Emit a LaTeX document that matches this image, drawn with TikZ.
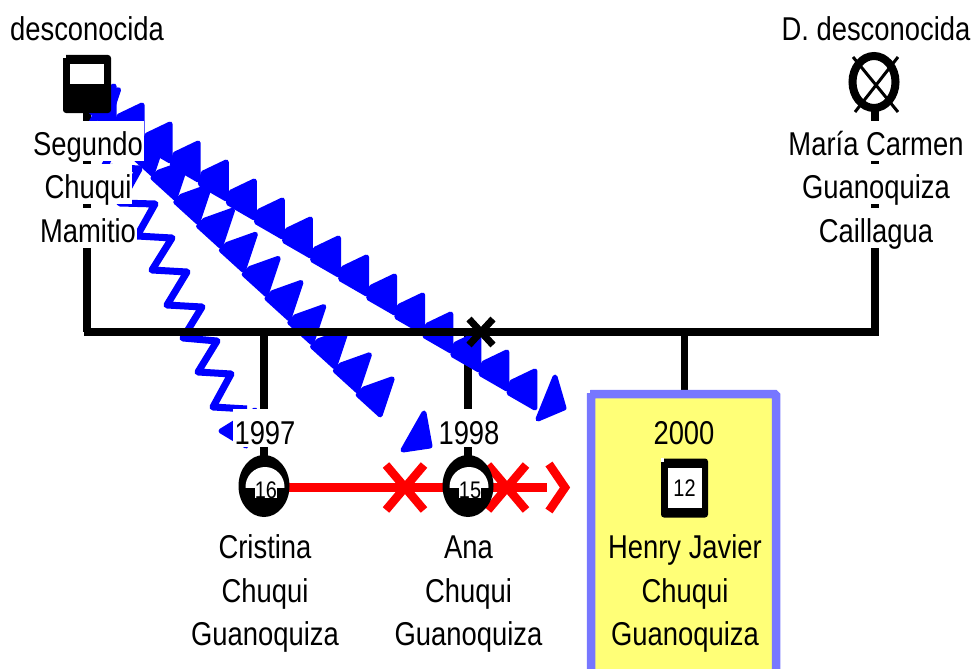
\documentclass[tikz,border=0pt]{standalone}
\usepackage{fontspec}
\setmainfont[FakeStretch=0.83]{Liberation Sans}
\usetikzlibrary{calc,shapes.geometric}
\definecolor{zblue}{RGB}{0,0,255}
\definecolor{hlborder}{RGB}{119,119,255}
\definecolor{hlfill}{RGB}{255,255,119}
\tikzset{
  kin/.style={line width=7.5pt,black},
  txt/.style={font=\fontsize{33}{33}\selectfont,anchor=base,inner sep=0pt},
  lbl/.style={txt,fill=white,inner xsep=1pt,text height=34pt,text depth=6pt},
  yearlbl/.style={txt,fill=white,inner xsep=1.5pt,text height=35pt,text depth=3pt},
  num/.style={font=\fontsize{24}{24}\selectfont,inner sep=0pt},
  tooth/.style={fill=zblue,draw=zblue,line width=5pt,line join=round},
  zig/.style={draw=zblue,line width=7pt,line join=round},
  redline/.style={draw=red,line width=8.5pt},
}
\begin{document}
\begin{tikzpicture}[x=1pt,y=-1pt]
\useasboundingbox (0,0) rectangle (975,669);
% anchor coordinates
\coordinate (fa) at (87,84);
\coordinate (mo) at (874,82);
\coordinate (barL) at (84,332);
\coordinate (barR) at (879,332);
\coordinate (c1) at (264,486);
\coordinate (c2) at (468,486);
\coordinate (c3) at (684.5,488);
\coordinate (redA) at (270,487.5);
\coordinate (redB) at (547,487.5);
\coordinate (S1) at (88,105);
\coordinate (E1) at (537,409);
\coordinate (S2) at (83.6,103.7);
\coordinate (E2) at (380,417);
% mother symbol
\draw[line width=3pt] (853,57) -- (898,112) (898,57) -- (855,112);
\node[ellipse,draw=black,line width=8pt,minimum width=43pt,minimum height=52pt,inner sep=0pt] (msym) at (mo) {};
% verticals below the blue lines
\draw[kin] (fa) -- (fa |- barL);
\draw[kin] (875,110) -- (875,332);
\draw[kin] (c1 |- barL) -- (c1);
\draw[kin] (c2 |- barL) -- (c2);
\draw[kin] (c3 |- barL) -- (684.5,395);
% red relation line
\draw[redline] (redA) -- (redB);
\draw[redline] (386,465) -- (424,510) (424,465) -- (386,510);
\draw[redline] (488,465) -- (526,510) (526,465) -- (488,510);
\draw[redline,line join=miter] (549,464) -- (565,487.5) -- (549,511);
% blue lines: thin zigzag
\draw[zig] (105,99) -- (87,132) -- (122,134) -- (104,167) -- (139,169) -- (120,203) -- (155,204)
  -- (137,236) -- (172,238) -- (152,270) -- (187,272) -- (167,305) -- (202,307) -- (183,338)
  -- (217,341) -- (198,372) -- (231,374) -- (213,407) -- (247,409);
\draw[tooth] (255,410) -- (221,431) -- (246,446) -- cycle;
% blue line 2
\foreach \n in {0,...,12}{
  \pgfmathsetmacro{\t}{\n/13}
  \draw[tooth] ($(S2)!\t!(E2)+(35,-14)$) -- ($(S2)!\t!(E2)+(7,-4)$) -- ($(S2)!\t!(E2)+(1,2)$) -- ($(S2)!\t!(E2)+(23,22)$) -- cycle;
}
\draw[tooth] (424,413) -- (403,450) -- (430,446) -- cycle;
% blue line 1
\foreach \n in {0,...,15}{
  \pgfmathsetmacro{\t}{\n/16}
  \draw[tooth] ($(S1)!\t!(E1)+(26,-19)$) -- ($(S1)!\t!(E1)+(3,-8)$) -- ($(S1)!\t!(E1)+(0,3)$) -- ($(S1)!\t!(E1)+(26,18)$) -- cycle;
}
\draw[tooth] (555,377) -- (538,419) -- (564,408) -- cycle;
% labels
\node[txt] (t1) at (87,41) {desconocida};
\node[txt] (t2) at (876,41) {D. desconocida};
\node[lbl] (f1) at (88,155) {Segundo};
\node[lbl] (f2) at (88,198) {Chuqui};
\node[lbl] (f3) at (88,242) {Mamitio};
\node[lbl] (m1) at (876,155) {María Carmen};
\node[lbl] (m2) at (876,198) {Guanoquiza};
\node[lbl] (m3) at (876,242) {Caillagua};
\node[yearlbl] (y1) at (265,444) {1997};
\node[yearlbl] (y2) at (469,444) {1998};
% bar and cross
\draw[line width=8.5pt] (barL) -- (barR);
\draw[line width=7pt] (469,319) -- (493,345) (493,319) -- (469,345);
% father
\node[fill=black,rounded corners=3pt,minimum width=48pt,minimum height=58pt,inner sep=0pt] (fsym) at (fa) {};
\fill[white] (62.5,54.5) rectangle (66,58);
\fill[white] (70,64) rectangle (104,84);
% children
\foreach \c/\v in {c1/16,c2/15}{
  \node[ellipse,fill=black,minimum width=51pt,minimum height=62pt,inner sep=0pt] (sym\v) at (\c) {};
  \begin{scope}
    \clip ($(\c)+(-21,-24)$) rectangle ($(\c)+(21,1)$);
    \fill[white] ($(\c)+(1,1)$) ellipse [x radius=19.5pt,y radius=20pt];
  \end{scope}
  \node[num,fill=white,inner sep=0pt,text height=16pt,text depth=0pt] (n\v) at ($(\c)+(2,4)$) {\v};
}
% Henry
\node[draw=hlborder,fill=hlfill,line width=8.5pt,rounded corners=1.5pt,minimum width=185pt,minimum height=280pt,inner sep=0pt] (hbox) at (683.5,534) {};
\fill[white] (586,388.5) rectangle (590,393);
\node[txt] (y3) at (684,444) {2000};
\node[fill=black,rounded corners=3pt,minimum width=47pt,minimum height=59pt,inner sep=0pt] (hsym) at (c3) {};
\fill[white] (660.5,458) rectangle (664,461.5);
\node[fill=white,minimum width=34pt,minimum height=40pt,inner sep=0pt,font=\fontsize{24}{24}\selectfont] (hnum) at (c3) {12};
% name labels
\node[txt] (a1) at (265,558) {Cristina};
\node[txt] (a2) at (265,602) {Chuqui};
\node[txt] (a3) at (265,645) {Guanoquiza};
\node[txt] (b1) at (468.5,558) {Ana};
\node[txt] (b2) at (468.5,602) {Chuqui};
\node[txt] (b3) at (468.5,645) {Guanoquiza};
\node[txt] (h1) at (685,558) {Henry Javier};
\node[txt] (h2) at (685,602) {Chuqui};
\node[txt] (h3) at (685,645) {Guanoquiza};
\end{tikzpicture}
\end{document}
